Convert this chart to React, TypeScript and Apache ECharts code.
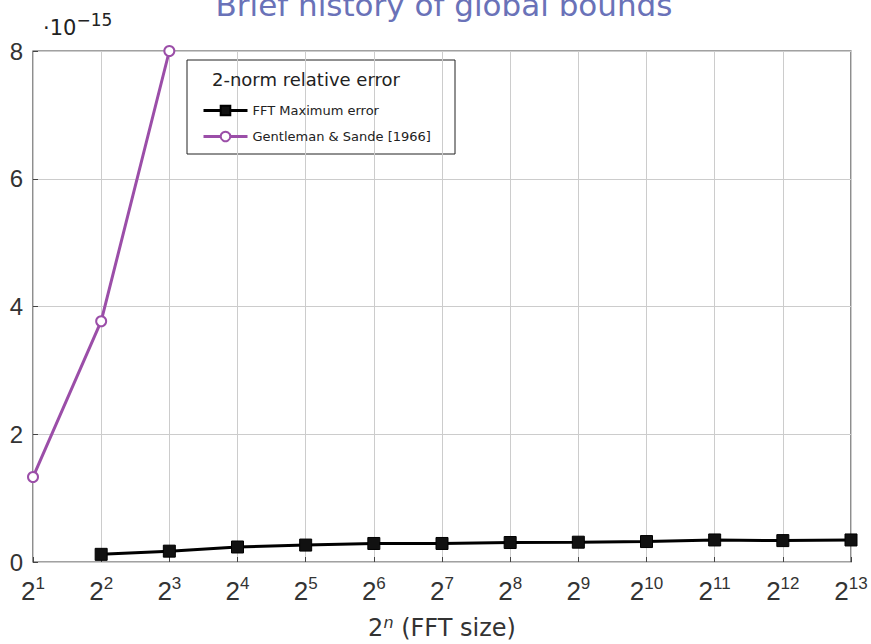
import React, { useEffect, useRef } from "react";
import * as echarts from "echarts";

const exponents = [1, 2, 3, 4, 5, 6, 7, 8, 9, 10, 11, 12, 13];
const fftMaxError: [number, number][] = [
  [2, 0.12], [3, 0.17], [4, 0.235], [5, 0.265], [6, 0.29], [7, 0.29],
  [8, 0.305], [9, 0.31], [10, 0.32], [11, 0.345], [12, 0.335], [13, 0.345],
];
const gentlemanSande: [number, number][] = [[1, 1.33], [2, 3.77], [3, 8.0]];
const yTicks = [0, 2, 4, 6, 8];

const TXT = "DejaVu Sans";
const NUM = "Liberation Sans";

export default function App() {
  const ref = useRef<HTMLDivElement>(null);
  useEffect(() => {
    const chart = echarts.init(ref.current!, null, { renderer: "svg" });
    chart.setOption({
      animation: false,
      textStyle: { fontFamily: TXT },
      grid: {
        left: 33, right: 20, top: 51, bottom: 82,
        outerBoundsMode: "none", containLabel: false,
        show: true, borderColor: "#444", borderWidth: 1.2, backgroundColor: "transparent",
      },
      xAxis: {
        type: "value",
        min: 1,
        max: 13,
        interval: 1,
        name: "{b|2}{s|n}{b| (FFT size)}",
        nameLocation: "middle",
        nameGap: 52,
        nameTextStyle: {
          color: "#333",
          rich: {
            b: { fontSize: 24, fontFamily: TXT, color: "#333" },
            s: { fontSize: 16, fontStyle: "italic", fontFamily: TXT, color: "#333", verticalAlign: "top", padding: [0, 0, 12, 0] },
          },
          fontSize: 24,
        },
        axisLine: { show: false },
        axisTick: { show: true, inside: true, length: 5, lineStyle: { color: "#444" } },
        splitLine: { show: true, lineStyle: { color: "#ccc", width: 1 } },
        axisLabel: {
          margin: 8,
          formatter: (v: number) => (exponents.includes(v) ? `{b|2}{s|${v}}` : ""),
          rich: {
            b: { fontSize: 26, fontFamily: NUM, color: "#333", padding: [8, 0, 0, 0] },
            s: { fontSize: 17, fontFamily: NUM, color: "#333", padding: [0, 0, 8, 0] },
          },
        },
      },
      yAxis: {
        type: "value",
        min: 0,
        max: 8,
        interval: 2,
        axisLine: { show: false },
        axisTick: { show: true, inside: true, length: 5, lineStyle: { color: "#444" } },
        splitLine: { show: true, lineStyle: { color: "#ccc", width: 1 } },
        axisLabel: {
          fontSize: 24,
          fontFamily: NUM,
          color: "#333",
          margin: 10,
          formatter: (v: number) => (yTicks.includes(v) ? String(v) : ""),
        },
      },
      legend: {
        orient: "vertical",
        left: 197,
        top: 99,
        itemWidth: 44,
        itemHeight: 12,
        itemGap: 13,
        lineStyle: { width: 3 },
        textStyle: { fontSize: 13, color: "#222", fontFamily: TXT },
        data: ["FFT Maximum error", "Gentleman & Sande [1966]"],
      },
      graphic: [
        {
          type: "rect",
          shape: { x: 187, y: 60, width: 268, height: 94 },
          style: { fill: "#fff", stroke: "#222", lineWidth: 1 },
          z: 0,
          silent: true,
        },
        {
          type: "text",
          x: 212,
          y: 70,
          style: { text: "2-norm relative error", fontSize: 18, fill: "#222", fontFamily: TXT },
          z: 1,
        },
        {
          type: "text",
          x: 444,
          y: 5,
          style: { text: "Brief history of global bounds", fontSize: 31, fill: "#6a72b8", fontFamily: TXT, align: "center", verticalAlign: "middle" },
        },
        {
          type: "text",
          x: 43,
          y: 9,
          style: {
            text: "{a|·10}{s|−15}",
            rich: {
              a: { fontSize: 21, fill: "#222", fontFamily: TXT, padding: [8, 0, 0, 0] },
              s: { fontSize: 17, fill: "#222", fontFamily: TXT, padding: [0, 0, 8, 0] },
            },
          },
        },
      ],
      series: [
        {
          name: "FFT Maximum error",
          type: "line",
          data: fftMaxError,
          symbol: "rect",
          symbolSize: 12,
          clip: false,
          z: 3,
          lineStyle: { color: "#000", width: 3 },
          itemStyle: { color: "#111", borderColor: "#000", borderWidth: 1 },
        },
        {
          name: "Gentleman & Sande [1966]",
          type: "line",
          data: gentlemanSande,
          symbol: "emptyCircle",
          symbolSize: 10,
          clip: false,
          z: 3,
          lineStyle: { color: "#9b4ea8", width: 3 },
          itemStyle: { color: "#9b4ea8", borderColor: "#9b4ea8", borderWidth: 2.5 },
        },
      ],
    });
    return () => chart.dispose();
  }, []);
  return <div ref={ref} style={{ width: 871, height: 644, position: "absolute", left: 0, top: 0 }} />;
}
